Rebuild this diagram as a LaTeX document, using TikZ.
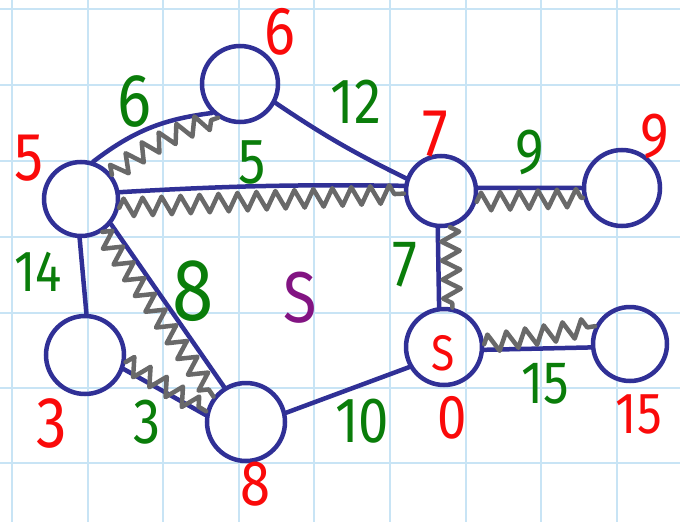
\documentclass[tikz,border=0pt]{standalone}
\usepackage{fontspec}
\setmainfont{Fira Sans}[FakeStretch=0.85]
\usetikzlibrary{decorations.pathmorphing}
\definecolor{gridc}{RGB}{200,228,245}
\definecolor{nodeblue}{RGB}{48,48,150}
\definecolor{springgray}{RGB}{105,105,105}
\definecolor{lblred}{RGB}{250,10,10}
\definecolor{lblgreen}{RGB}{10,125,10}
\definecolor{lblpurple}{RGB}{130,20,130}
\begin{document}
\begin{tikzpicture}[x=1pt,y=-1pt,
  vtx/.style={circle,draw=nodeblue,line width=4.5pt,minimum size=76pt,inner sep=0pt},
  edge/.style={draw=nodeblue,line width=4.5pt,line cap=round},
  spring/.style={draw=springgray,line width=4.5pt,line cap=round,line join=round,decorate,decoration={zigzag,segment length=19pt,amplitude=9pt}},
  lbl/.style={inner sep=0pt,font=\fontsize{#1}{#1}\selectfont},
  wt/.style={lbl=#1,text=lblgreen},
  wt/.default=64,
  dist/.style={lbl=#1,text=lblred},
  dist/.default=64]
\fill[white] (0,0) rectangle (680,522);
\useasboundingbox (0,0) rectangle (680,522);
\foreach \x in {12,88,163,239,314,390,466,541,617}
  \draw[gridc,line width=1.8pt] (\x,0) -- (\x,522);
\foreach \y in {9,85,161,237,313,388,463}
  \draw[gridc,line width=1.8pt] (0,\y) -- (680,\y);

% vertices
\node[vtx] (A) at (240,84) {};
\node[vtx,minimum size=74pt] (B) at (81,199) {};
\node[vtx,minimum size=70pt] (C) at (441,191) {};
\node[vtx] (D) at (622,188) {};
\node[vtx,minimum size=78pt] (E) at (85,355) {};
\node[vtx,minimum size=78pt] (F) at (246,422) {};
\node[vtx] (S) at (444,347) {};
\node[vtx,minimum size=74pt] (G) at (630,344) {};

% edges
\draw[edge] (B.72) to[bend left=15] (A.226);
\draw[edge] (A.-28) to[bend right=4] (C.160);
\draw[edge] (B.10) to[bend left=2] (C.172);
\draw[edge] (C.5) -- (D.180);
\draw[edge] (C.-95) -- (S.97);
\draw[edge] (S.-4) -- (G.185);
\draw[edge] (B.-92) -- (E.88);
\draw[edge] (B.-40) -- (F.122);
\draw[edge] (E.-20) -- (F.170);
\draw[edge] (F.13) -- (S.210);

% springs
\draw[spring] (B.38) to[bend left=10] (A.237);
\draw[spring] (B.-13) -- (C.184);
\draw[spring] (C.-17) -- (D.194);
\draw[spring] (C.-76) -- (S.78);
\draw[spring] (S.4) -- (G.153);
\draw[spring] (B.-57) -- (F.142);
\draw[spring] (E.-10) -- (F.165);

% edge weights
\node[wt=75] (w6) at (134,101) {6};
\node[wt] (w5) at (252,162) {5};
\node[wt] (w12) at (356,102) {12};
\node[wt] (w9) at (530,152) {9};
\node[wt=58] (w14) at (38,272) {14};
\node[wt=88] (w8) at (193,291) {8};
\node[wt=66] (w7) at (405,265) {7};
\node[wt] (w3) at (147,422) {3};
\node[wt] (w10) at (362,421) {10};
\node[wt=60] (w15) at (545,384) {15};

% distances
\node[dist=68] (d6) at (280,32) {6};
\node[dist=68] (d5) at (29,158) {5};
\node[dist=68] (d7) at (435,134) {7};
\node[dist=64] (d9) at (655,136) {9};
\node[dist=72] (d3) at (52,423) {3};
\node[dist=64] (d8) at (255,484) {8};
\node[dist=62] (d0) at (452,418) {0};
\node[dist=58] (d15) at (639,414) {15};
\node[dist=50] (dS) at (443,353) {S};
\node[lbl=72,text=lblpurple] (setS) at (300,298) {S};
\end{tikzpicture}
\end{document}
